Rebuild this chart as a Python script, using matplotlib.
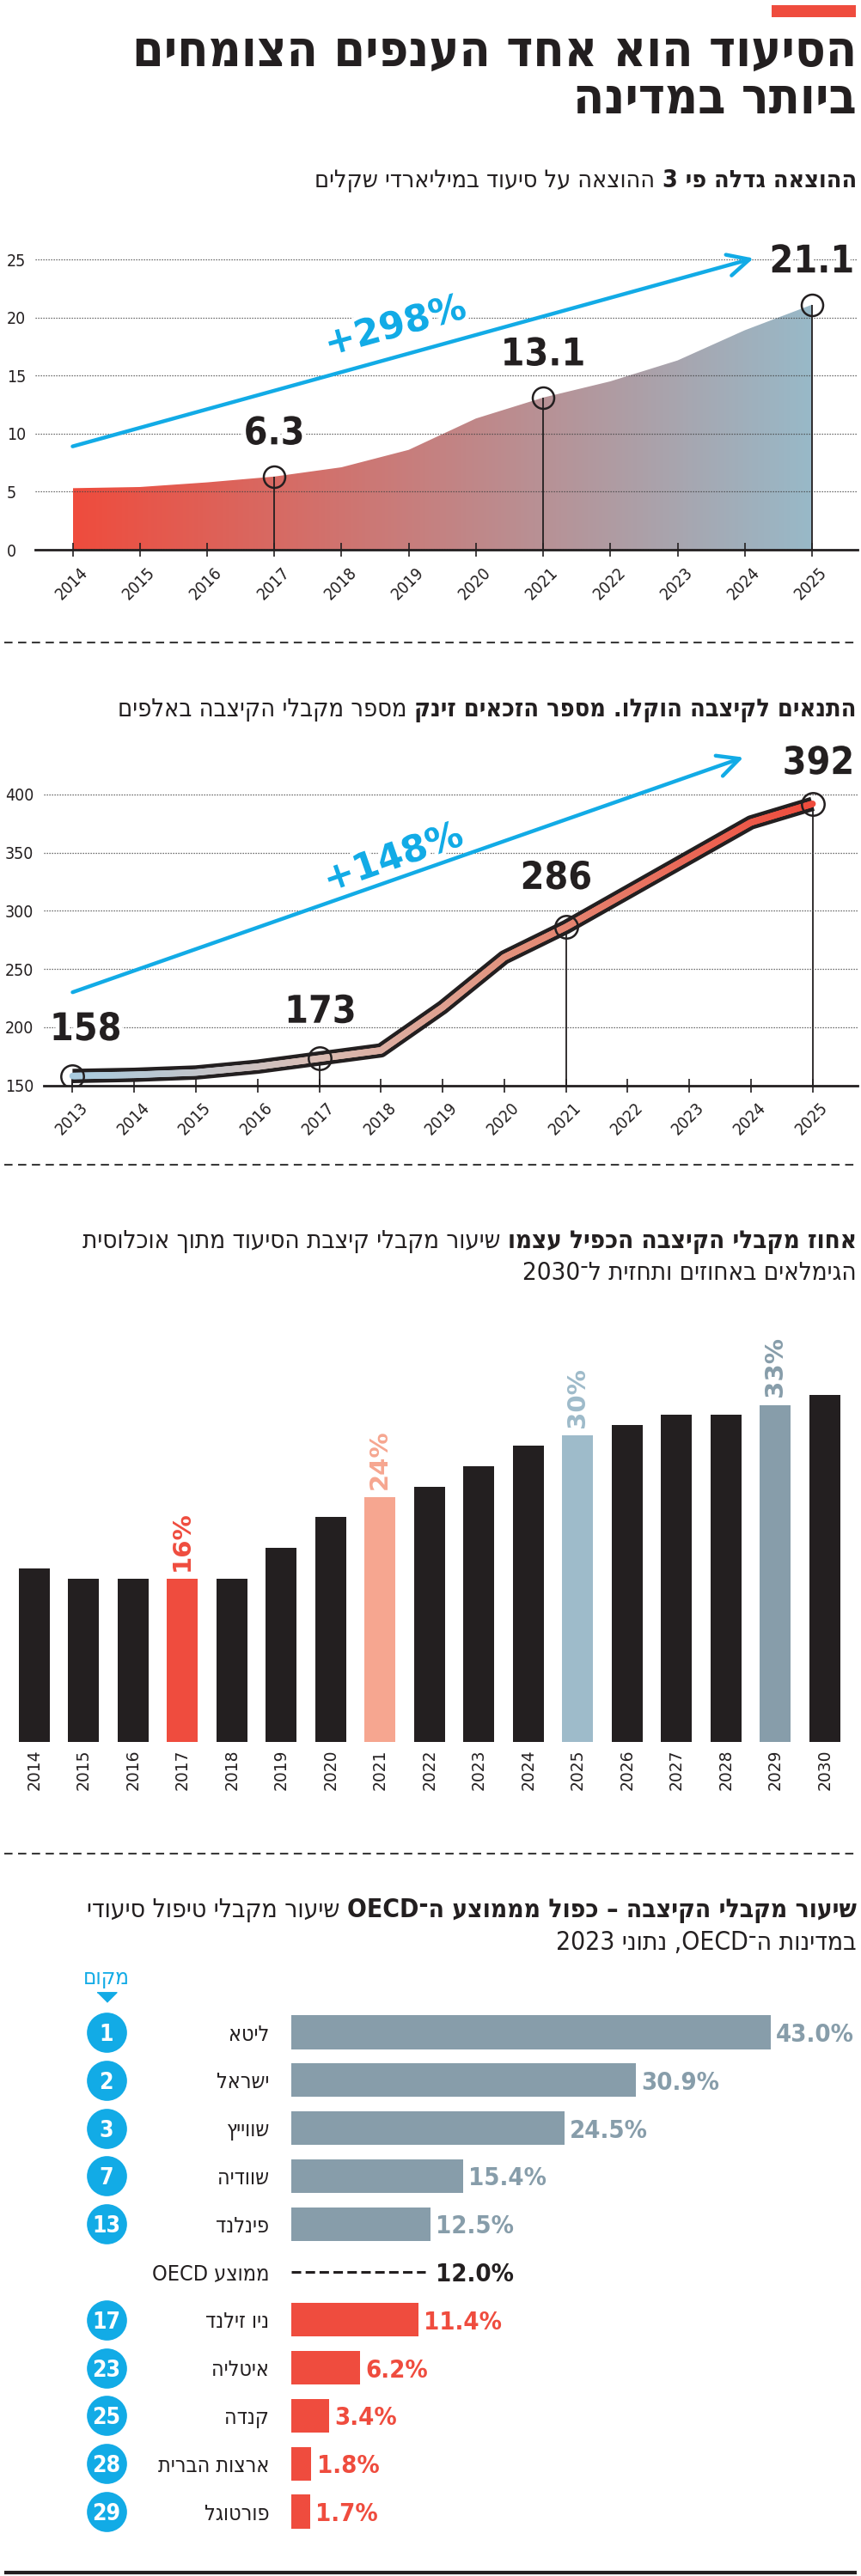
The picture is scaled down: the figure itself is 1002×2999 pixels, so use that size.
import re
import numpy as np
import matplotlib
matplotlib.use("Agg")
import matplotlib.pyplot as plt
import matplotlib.patheffects as pe
from matplotlib.colors import LinearSegmentedColormap
from matplotlib.collections import LineCollection
from matplotlib.patches import Rectangle
from matplotlib.transforms import ScaledTranslation

# ---- data ----
spend_years = [2014, 2015, 2016, 2017, 2018, 2019, 2020, 2021, 2022, 2023, 2024, 2025]
spend = [5.3, 5.4, 5.8, 6.3, 7.1, 8.6, 11.3, 13.1, 14.5, 16.3, 18.9, 21.1]   # billion NIS
spend_marked = [2017, 2021, 2025]
spend_growth = "+298%"

recip_years = [2013, 2014, 2015, 2016, 2017, 2018, 2019, 2020, 2021, 2022, 2023, 2024, 2025]
recipients = [158, 159, 161, 166, 173, 180, 217, 260, 286, 316, 346, 376, 392]   # thousands
recip_marked = [2013, 2017, 2021, 2025]
recip_growth = "+148%"

share_years = [2014, 2015, 2016, 2017, 2018, 2019, 2020, 2021, 2022, 2023, 2024, 2025,
               2026, 2027, 2028, 2029, 2030]
share = [17, 16, 16, 16, 16, 19, 22, 24, 25, 27, 29, 30, 31, 32, 32, 33, 34]
share_marked = [2017, 2021, 2025, 2029]

countries = ["ליטא", "ישראל", "שווייץ", "שוודיה", "פינלנד",
             "ניו זילנד", "איטליה", "קנדה", "ארצות הברית", "פורטוגל"]
ranks = [1, 2, 3, 7, 13, 17, 23, 25, 28, 29]
rates = [43.0, 30.9, 24.5, 15.4, 12.5, 11.4, 6.2, 3.4, 1.8, 1.7]
oecd_avg = 12.0

# ---- colours ----
INK = "#231F20"
RED = "#EF4C3E"
SALMON = "#F6A690"
LIGHTBLUE = "#9EBBCA"
GRAYBLUE = "#879DAA"
BLUE = "#12ABE6"
marked_colors = [RED, SALMON, LIGHTBLUE, GRAYBLUE]
COND = dict(family="DejaVu Sans", fontstretch="condensed")

W, H = 1002, 2999
fig = plt.figure(figsize=(W / 100, H / 100), dpi=100)
fig.patch.set_facecolor("white")

# overlay in pixel units for titles / separators
ov = fig.add_axes([0, 0, 1, 1], zorder=0)
ov.set_xlim(0, W)
ov.set_ylim(H, 0)
ov.axis("off")


def px_axes(x0, y0, x1, y1):
    ax = fig.add_axes([x0 / W, 1 - y1 / H, (x1 - x0) / W, (y1 - y0) / H], zorder=1)
    ax.patch.set_visible(False)
    return ax


def span(d0, p0, d1, p1, pa, pb):
    # data values at pixels pa, pb given two anchor points
    k = (d1 - d0) / (p1 - p0)
    return d0 + (pa - p0) * k, d0 + (pb - p0) * k


LTR = re.compile(r"[A-Za-z0-9%][A-Za-z0-9.,%]*[A-Za-z0-9%]|[A-Za-z0-9%]")


def heb(s):
    # crude visual reordering for right-to-left text
    parts, pos = [], 0
    for m in LTR.finditer(s):
        if m.start() > pos:
            parts.append(s[pos:m.start()][::-1])
        parts.append(m.group())
        pos = m.end()
    if pos < len(s):
        parts.append(s[pos:][::-1])
    return "".join(parts[::-1])


def rtl_line(parts, right, base, size, fit=None):
    r = fig.canvas.get_renderer()

    def put(sz):
        arts, x = [], right
        gap = 0.3 * sz * 100 / 72
        for txt, bold in parts:
            t = ov.text(x, base, heb(txt), ha="right", va="baseline", fontsize=sz,
                        fontweight="bold" if bold else "normal", color=INK, **COND)
            arts.append(t)
            x -= t.get_window_extent(r).width + gap
        return arts, right - x - gap

    arts, w = put(size)
    if fit:
        for a in arts:
            a.remove()
        size = size * fit / w
        put(size)
    return size


def separator(y):
    ov.plot([5, 997], [y, y], color="#3A3A3A", lw=1.5, ls=(0, (4.6, 3.1)))


def year_axis(ax, years):
    ax.set_xticks(years)
    ax.set_xticklabels([str(y) for y in years], rotation=45, ha="right", va="top",
                       rotation_mode="anchor", fontsize=14, color=INK, **COND)
    ax.tick_params(axis="x", direction="inout", length=12, width=1.2, color=INK, pad=6)
    off = ScaledTranslation(8 / 100, 0, fig.dpi_scale_trans)
    for lbl in ax.get_xticklabels():
        lbl.set_transform(lbl.get_transform() + off)
    for s in ["top", "left", "right"]:
        ax.spines[s].set_visible(False)
    ax.spines["bottom"].set_linewidth(2)
    ax.spines["bottom"].set_color(INK)


def value_axis(ax, ticks, pad_px):
    ax.set_yticks(ticks)
    ax.set_yticklabels([str(t) for t in ticks], fontsize=14, color=INK, **COND)
    ax.tick_params(axis="y", length=0, pad=pad_px * 0.72)
    for lbl in ax.get_yticklabels():
        lbl.set_ha("left")
    ax.grid(axis="y", ls=(0, (1, 1.4)), color="#444444", lw=0.9)
    ax.set_axisbelow(False)


def growth_arrow(ax, p0, p1, label, at):
    ax.annotate("", xy=p1, xytext=p0, zorder=5,
                arrowprops=dict(arrowstyle="->,head_length=0.9,head_width=0.45", color=BLUE,
                                lw=3.2, shrinkA=0, shrinkB=0, mutation_scale=20))
    pp = ax.transData.transform([p0, p1])
    ang = np.degrees(np.arctan2(pp[1, 1] - pp[0, 1], pp[1, 0] - pp[0, 0]))
    ax.text(at[0], at[1], label, rotation=ang, rotation_mode="anchor", ha="center",
            va="center", fontsize=31, fontweight="bold", color=BLUE, family="DejaVu Sans",
            path_effects=halo, zorder=6)


halo = [pe.withStroke(linewidth=7, foreground="white")]
big = dict(fontsize=32, fontweight="bold", color=INK, ha="center", va="center",
           path_effects=halo, zorder=6, **COND)

# ---- header ----
ov.add_patch(Rectangle((898, 6), 98, 14, color=RED, lw=0))
tsize = rtl_line([("הסיעוד הוא אחד הענפים הצומחים", True)], 997, 77, 38, fit=843)
rtl_line([("ביותר במדינה", True)], 997, 132, tsize)

# ---- chart 1: spending ----
rtl_line([("ההוצאה גדלה פי 3", True), ("ההוצאה על סיעוד במיליארדי שקלים", False)],
         997, 218, 19, fit=629)

ax1 = px_axes(41, 250, 998, 640)
poly = ax1.fill_between(spend_years, spend, 0, color="none", lw=0)
cmap1 = LinearSegmentedColormap.from_list("spend", ["#EF4C3D", "#98B9C8"])
im = ax1.imshow(np.linspace(0, 1, 256).reshape(1, -1), cmap=cmap1, aspect="auto",
                extent=[spend_years[0], spend_years[-1], 0, max(spend)], origin="lower", zorder=1)
im.set_clip_path(poly.get_paths()[0], transform=ax1.transData)
ax1.set_xlim(*span(2014, 84.5, 2025, 945, 41, 998))
ax1.set_ylim(*span(0, 640, 25, 302, 640, 250))
value_axis(ax1, [0, 5, 10, 15, 20, 25], 33)
year_axis(ax1, spend_years)

m1 = [spend[spend_years.index(y)] for y in spend_marked]
ax1.vlines(spend_marked, 0, m1, color=INK, lw=1.3, zorder=3)
ax1.plot(spend_marked, m1, "o", ms=18, mfc="none", mec=INK, mew=1.8, zorder=4)
for y, v in zip(spend_marked, m1):
    ax1.annotate(f"{v:.1f}", (y, v), xytext=(0, 36), textcoords="offset points", **big)

growth_arrow(ax1, (2014, 8.9), (2024.13, 25.1), spend_growth, (2018.8, 19.2))

separator(748)

# ---- chart 2: recipients ----
rtl_line([("התנאים לקיצבה הוקלו. מספר הזכאים זינק", True),
          ("מספר מקבלי הקיצבה באלפים", False)], 997, 834, 20, fit=855)

ax2 = px_axes(51, 850, 998, 1263.5)
ax2.set_xlim(*span(2013, 84.5, 2025, 945.6, 51, 998))
ax2.set_ylim(*span(150, 1263.5, 400, 925, 1263.5, 850))
value_axis(ax2, [150, 200, 250, 300, 350, 400], 45)
year_axis(ax2, recip_years)

ax2.plot(recip_years, recipients, color=INK, lw=12, solid_joinstyle="round",
         solid_capstyle="butt", zorder=3)
# gradient core of the line
xs = np.linspace(recip_years[0], recip_years[-1], 500)
ys = np.interp(xs, recip_years, recipients)
segs = np.stack([np.column_stack([xs[:-1], ys[:-1]]), np.column_stack([xs[1:], ys[1:]])], axis=1)
cmap2 = LinearSegmentedColormap.from_list(
    "band", [(0, "#A9CCE0"), (0.33, "#D9BDB5"), (0.6, "#E2917C"), (1, "#EF4C3D")])
lc = LineCollection(segs, cmap=cmap2, lw=5.5, capstyle="round", zorder=4)
lc.set_array(xs[:-1])
ax2.add_collection(lc)

m2 = [recipients[recip_years.index(y)] for y in recip_marked]
ax2.vlines(recip_marked, 150, m2, color=INK, lw=1.3, zorder=2)
ax2.plot(recip_marked, m2, "o", ms=19, mfc="none", mec=INK, mew=1.8, zorder=5)
shifts = [(11, 39), (1, 39), (-8, 41), (5, 34)]
for y, v, (dx, dy) in zip(recip_marked, m2, shifts):
    ax2.annotate(f"{v}", (y, v), xytext=(dx, dy), textcoords="offset points", **big)

growth_arrow(ax2, (2013, 230), (2023.88, 432), recip_growth, (2018.2, 345))

separator(1356)

# ---- chart 3: share of elderly ----
s3 = rtl_line([("אחוז מקבלי הקיצבה הכפיל עצמו", True),
               ("שיעור מקבלי קיצבת הסיעוד מתוך אוכלוסית", False)], 997, 1453, 20, fit=901)
rtl_line([("הגימלאים באחוזים ותחזית ל־2030", False)], 997, 1490, s3)

ax3 = px_axes(0, 1500, 1002, 2028)
ax3.set_xlim(*span(2014, 39.7, 2030, 959.7, 0, 1002))
ax3.set_ylim(*span(0, 2028, 16, 1837.7, 2028, 1500))
cols = [marked_colors[share_marked.index(y)] if y in share_marked else INK for y in share_years]
ax3.bar(share_years, share, width=0.62, color=cols, zorder=2)
for y, c in zip(share_marked, marked_colors):
    v = share[share_years.index(y)]
    ax3.annotate(f"{v}%", (y, v), xytext=(0, 6.5), textcoords="offset points", rotation=90,
                 ha="center", va="bottom", fontsize=21, fontweight="bold", color=c,
                 family="DejaVu Sans")
ax3.set_xticks(share_years)
ax3.set_xticklabels([str(y) for y in share_years], rotation=90, fontsize=13.5, color=INK)
ax3.tick_params(axis="x", length=0, pad=6)
ax3.set_yticks([])
for s in ax3.spines.values():
    s.set_visible(False)

separator(2158)

# ---- chart 4: OECD comparison ----
s4 = rtl_line([("שיעור מקבלי הקיצבה – כפול מממוצע ה־OECD", True),
               ("שיעור מקבלי טיפול סיעודי", False)], 997, 2232, 20, fit=895)
rtl_line([("במדינות ה־OECD, נתוני 2023", False)], 997, 2270, s4)

ax4 = px_axes(339, 2330, 1002, 2960)
ax4.set_xlim(*span(0, 339, 43.0, 897, 339, 1002))
ax4.set_ylim(*span(0, 2366, 10, 2924, 2960, 2330))
ax4.axis("off")

rows = [0, 1, 2, 3, 4, 6, 7, 8, 9, 10]
oecd_row = 5
bar_cols = [GRAYBLUE if v > oecd_avg else RED for v in rates]
ax4.barh(rows, rates, height=0.7, color=bar_cols, zorder=2)

cx = span(0, 339, 43.0, 897, 123.5, 123.5)[0]
ax4.scatter([cx] * len(rows), rows, s=1130, color=BLUE, lw=0, clip_on=False, zorder=3)
for r, rk, name, v, c in zip(rows, ranks, countries, rates, bar_cols):
    ax4.text(cx, r, str(rk), ha="center", va="center_baseline", color="white", fontsize=19,
             fontweight="bold", clip_on=False, zorder=4, **COND)
    ax4.annotate(heb(name), (0, r), xytext=(-18.5, 0), textcoords="offset points",
                 ha="right", va="center_baseline", fontsize=18, color=INK, **COND)
    ax4.annotate(f"{v:.1f}%", (v, r), xytext=(4.5, 0), textcoords="offset points",
                 ha="left", va="center_baseline", fontsize=21, fontweight="bold", color=c, **COND)

ax4.plot([0, oecd_avg], [oecd_row, oecd_row], color=INK, lw=2.2, ls=(0, (3.6, 1.7)))
ax4.annotate(heb("ממוצע OECD"), (0, oecd_row), xytext=(-18.5, 0), textcoords="offset points",
             ha="right", va="center_baseline", fontsize=18, color=INK, **COND)
ax4.annotate(f"{oecd_avg:.1f}%", (oecd_avg, oecd_row), xytext=(9, 0), textcoords="offset points",
             ha="left", va="center_baseline", fontsize=21, fontweight="bold", color=INK, **COND)

head_y = span(0, 2366, 10, 2924, 2300, 2325)
ax4.text(cx, head_y[0], heb("מקום"), ha="center", va="center_baseline", fontsize=18.5,
         color=BLUE, clip_on=False, **COND)
ax4.plot([cx], [head_y[1]], marker=[(-1, 0.5), (1, 0.5), (0, -0.5)], ms=16.5, color=BLUE,
         lw=0, clip_on=False)

ov.plot([5, 997], [2995, 2995], color=INK, lw=3, solid_capstyle="butt")

fig.savefig("out.png", dpi=100, facecolor="white")
